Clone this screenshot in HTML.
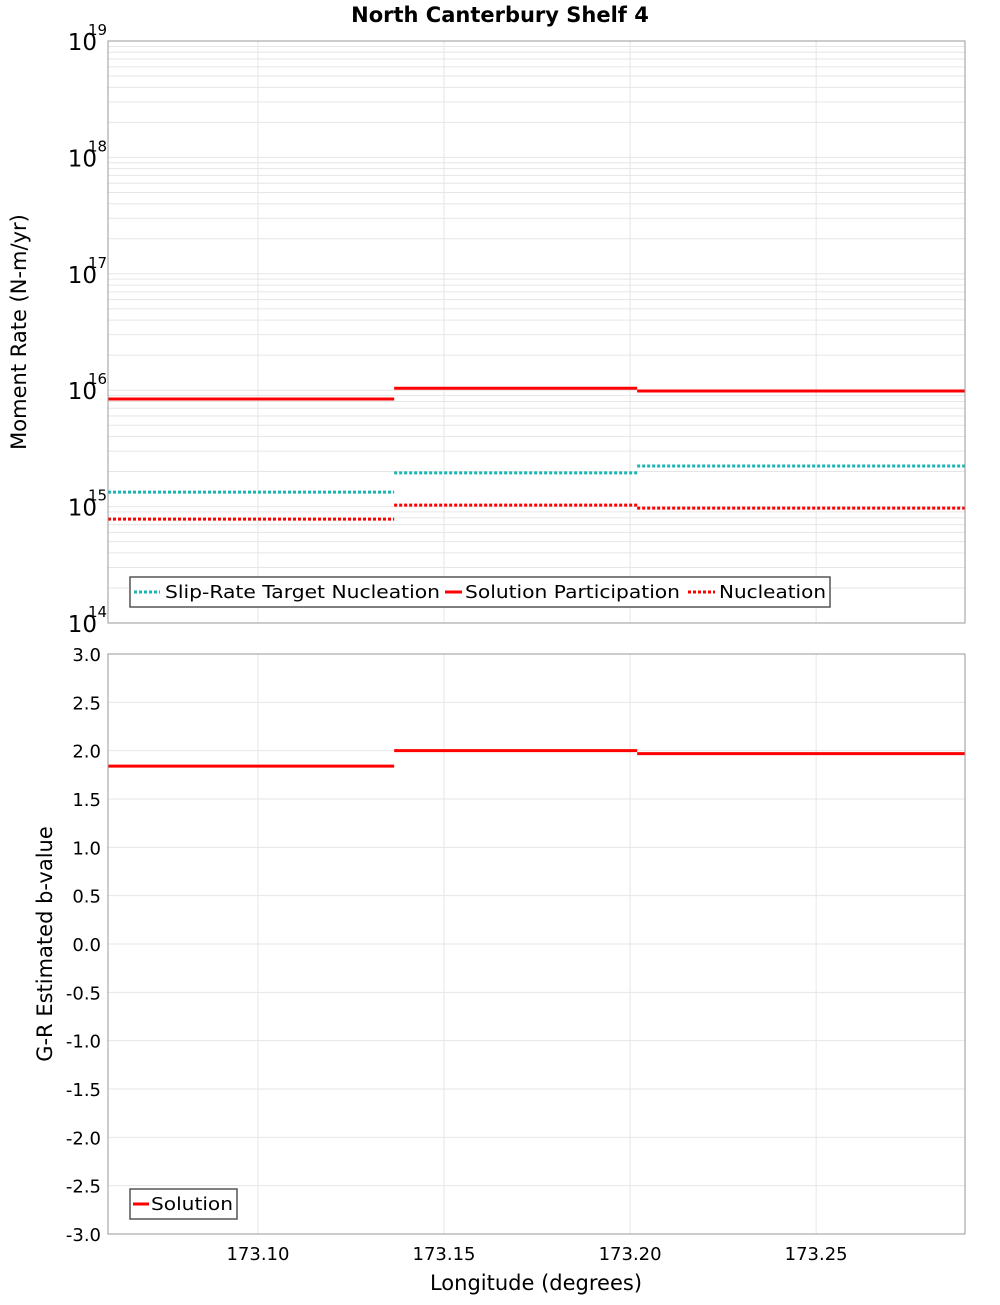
<!DOCTYPE html>
<html><head><meta charset="utf-8"><style>
body{margin:0;background:#fff;width:1000px;height:1300px;overflow:hidden}
svg{font-family:"DejaVu Sans","Liberation Sans",sans-serif}
</style></head><body>
<svg id="chart" width="1000" height="1300" xmlns="http://www.w3.org/2000/svg">
<text x="500" y="22" text-anchor="middle" font-size="21" font-weight="bold">North Canterbury Shelf 4</text>
</svg>
<script>
const segEdges = [173.0597, 173.1366, 173.2019, 173.29];
const slipTarget = [1.33e15, 1.95e15, 2.23e15];
const solutionParticipation = [8.4e15, 1.04e16, 9.85e15];
const nucleation = [7.8e14, 1.03e15, 9.7e14];
const bValues = [1.84, 2.0, 1.97];
const xTicks = [173.10, 173.15, 173.20, 173.25];
const xTickLabels = ["173.10", "173.15", "173.20", "173.25"];
const bTicks = [3,2.5,2,1.5,1,0.5,0,-0.5,-1,-1.5,-2,-2.5,-3];
const decades = [14,15,16,17,18,19];

const svg = document.getElementById('chart');
const NS = 'http://www.w3.org/2000/svg';
const L=108,R=965,T1=41,B1=623,T2=654,B2=1234;
const xS = v => L + (v-segEdges[0])/(segEdges[3]-segEdges[0])*(R-L);
const yLog = v => B1 - (Math.log10(v)-14)/5*(B1-T1);
const yB = v => B2 - (v+3)/6*(B2-T2);
function mk(tag, attrs, text){const e=document.createElementNS(NS,tag);for(const k in attrs)e.setAttribute(k,attrs[k]);if(text!==undefined)e.textContent=text;svg.appendChild(e);return e;}

let p1=mk('rect',{x:L,y:T1,width:R-L,height:B1-T1,fill:'#fff',stroke:'#999'});


let p2=mk('rect',{x:L,y:T2,width:R-L,height:B2-T2,fill:'#fff',stroke:'#999'});



for(let d=14; d<19; d++){for(let m=1;m<10;m++){const y=yLog(m*Math.pow(10,d));
 const g=mk('line',{x1:L,x2:R,y1:y,y2:y,stroke:'#e6e6e6','stroke-width':1});
 
 }}
decades.forEach(d=>{const y=yLog(Math.pow(10,d));
 const t=mk('text',{x:97,y:y+9,'text-anchor':'end','font-size':23},'10');
 
 
 const s=mk('text',{x:88,y:y-6,'font-size':15},String(d));
 
 });
bTicks.forEach(b=>{const y=yB(b);
 const g=mk('line',{x1:L,x2:R,y1:y,y2:y,stroke:'#e6e6e6'});
 
 
 const t=mk('text',{x:101,y:y+7,'text-anchor':'end','font-size':18},b.toFixed(1));
 
 });
xTicks.forEach((v,i)=>{const x=xS(v);
 [[T1,B1],[T2,B2]].forEach(([a,b])=>{const g=mk('line',{x1:x,x2:x,y1:a,y2:b,stroke:'#e6e6e6'});
  
  });
 const t=mk('text',{x:x,y:1260,'text-anchor':'middle','font-size':18},xTickLabels[i]);
 
 });

function series(vals, yf, color, dash, name){
 for(let i=0;i<vals.length;i++){
  const a={x1:xS(segEdges[i]),x2:xS(segEdges[i+1]),y1:yf(vals[i]),y2:yf(vals[i]),stroke:color,'stroke-width':3};
  if(dash)a['stroke-dasharray']='3,2';
  const l=mk('line',a);
  
  
 }
}
series(slipTarget,yLog,'#1ab5b5',true,'slip-rate-target-segment');
series(nucleation,yLog,'#ff0000',true,'nucleation-segment');
series(solutionParticipation,yLog,'#ff0000',false,'solution-participation-segment');
series(bValues,yB,'#ff0000',false,'b-value-segment');

mk('rect',{x:L,y:T1,width:R-L,height:B1-T1,fill:'none',stroke:'#999'});
mk('rect',{x:L,y:T2,width:R-L,height:B2-T2,fill:'none',stroke:'#999'});
</script>
<svg style="position:absolute;left:0;top:0" width="1000" height="1300" xmlns="http://www.w3.org/2000/svg" font-family="DejaVu Sans, Liberation Sans, sans-serif">
<text transform="translate(26,332) rotate(-90)" text-anchor="middle" font-size="21">Moment Rate (N-m/yr)</text>
<text transform="translate(52,944) rotate(-90)" text-anchor="middle" font-size="21">G-R Estimated b-value</text>
<text x="536" y="1290" text-anchor="middle" font-size="21">Longitude (degrees)</text>
<g>
<rect x="130" y="577" width="700" height="30" fill="#fff" stroke="#555" stroke-width="1.5"/>
<line x1="134" x2="160" y1="592" y2="592" stroke="#1ab5b5" stroke-width="3" stroke-dasharray="3,2"/>
<text x="165" y="598" font-size="18" textLength="275" lengthAdjust="spacingAndGlyphs">Slip-Rate Target Nucleation</text>
<line x1="445" x2="462" y1="592" y2="592" stroke="#f00" stroke-width="3"/>
<text x="465" y="598" font-size="18" textLength="215" lengthAdjust="spacingAndGlyphs">Solution Participation</text>
<line x1="688" x2="715" y1="592" y2="592" stroke="#f00" stroke-width="3" stroke-dasharray="3,2"/>
<text x="719" y="598" font-size="18" textLength="107" lengthAdjust="spacingAndGlyphs">Nucleation</text>
</g>
<g>
<rect x="130" y="1189" width="107" height="30" fill="#fff" stroke="#555" stroke-width="1.5"/>
<line x1="133" x2="149" y1="1204" y2="1204" stroke="#f00" stroke-width="3"/>
<text x="151" y="1210" font-size="18" textLength="82" lengthAdjust="spacingAndGlyphs">Solution</text>
</g>
</svg>
</body></html>
